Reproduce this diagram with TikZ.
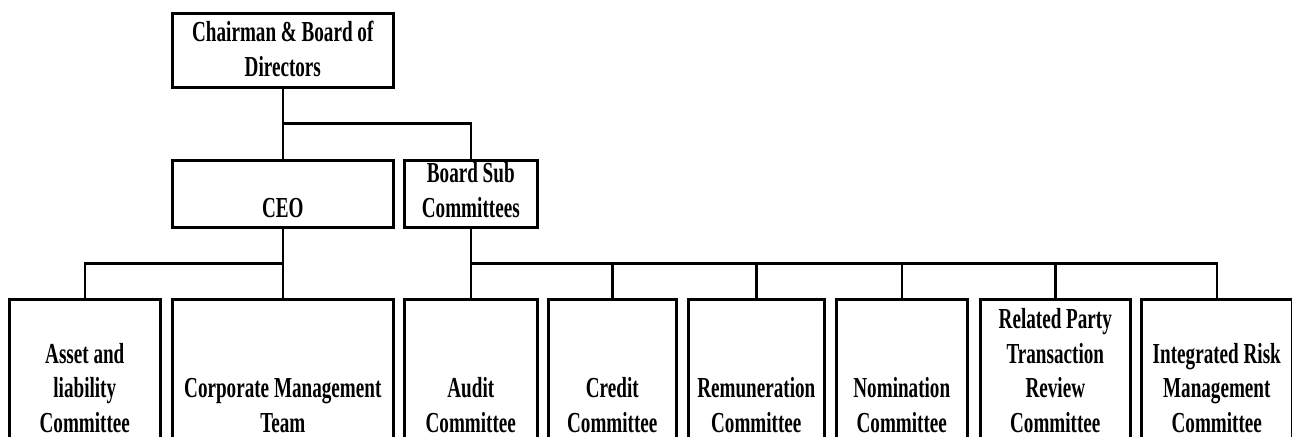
\documentclass[tikz,border=0pt]{standalone}
\usepackage{fontspec}
\setmainfont[FakeStretch=0.66]{Liberation Serif}
\usetikzlibrary{calc}

\tikzset{
  unit/.style={draw, line width=1.3pt, anchor=north west, inner sep=0pt},
  caption/.style={anchor=south, align=center, inner sep=0pt,
    font=\fontsize{14.5}{17.25}\selectfont\bfseries},
  link/.style={line width=1.3pt}
}

\begin{document}
\begin{tikzpicture}[x=1pt,y=-1pt]
\useasboundingbox (0,0) rectangle (646,218.5);
\clip (0,0) rectangle (646,218.5);

% board level
\node[unit, minimum width=110.5pt, minimum height=37pt] (chair) at (85.5,6) {};
\node[unit, minimum width=110.5pt, minimum height=33.5pt] (ceo) at (85.5,79.5) {};
\node[unit, minimum width=66.5pt, minimum height=33.5pt] (board) at (201.5,79.5) {};

% committees, running off the lower edge
\node[unit, minimum width=75.5pt, minimum height=85pt] (asset) at (4,149) {};
\node[unit, minimum width=110.5pt, minimum height=85pt] (corp) at (85.5,149) {};
\node[unit, minimum width=66.5pt, minimum height=85pt] (audit) at (201.5,149) {};
\node[unit, minimum width=64pt, minimum height=85pt] (credit) at (273.5,149) {};
\node[unit, minimum width=68pt, minimum height=85pt] (remun) at (343.5,149) {};
\node[unit, minimum width=65.5pt, minimum height=85pt] (nomin) at (417.5,149) {};
\node[unit, minimum width=75pt, minimum height=85pt] (related) at (489.5,149) {};
\node[unit, minimum width=75.5pt, minimum height=85pt] (integ) at (570,149) {};

% texts sit on the last baseline
\node[caption] (chair-t) at (chair.south |- 0,38.5) {Chairman \& Board of\\Directors};
\node[caption] (ceo-t) at (ceo.south |- 0,109) {CEO};
\node[caption] (board-t) at (board.south |- 0,109) {Board Sub\\Committees};
\node[caption] (asset-t) at (asset.north |- 0,216.5) {Asset and\\liability\\Committee};
\node[caption] (corp-t) at (corp.north |- 0,216.5) {Corporate Management\\Team};
\node[caption] (audit-t) at (audit.north |- 0,216.5) {Audit\\Committee};
\node[caption] (credit-t) at (credit.north |- 0,216.5) {Credit\\Committee};
\node[caption] (remun-t) at (remun.north |- 0,216.5) {Remuneration\\Committee};
\node[caption] (nomin-t) at (nomin.north |- 0,216.5) {Nomination\\Committee};
\node[caption] (related-t) at (related.north |- 0,216.5) {Related Party\\Transaction\\Review\\Committee};
\node[caption] (integ-t) at (integ.north |- 0,216.5) {Integrated Risk\\Management\\Committee};

% connectors
\coordinate (fork) at ($(chair.south)!.5!(ceo.north)$);
\draw[link] (chair.south) -- (ceo.north);
\draw[link] (fork) -| (board.north);

\coordinate (ceobus) at ($(ceo.south)!.5!(corp.north)$);
\draw[link] (ceo.south) -- (corp.north);
\draw[link] (ceobus) -| (asset.north);

\coordinate (subbus) at ($(board.south)!.5!(audit.north)$);
\draw[link] (board.south) -- (audit.north);
\draw[link] (subbus) -| (integ.north);
\foreach \c in {credit,remun,nomin,related}
  \draw[link] (\c.north) -- (\c.north |- subbus);
\end{tikzpicture}
\end{document}
